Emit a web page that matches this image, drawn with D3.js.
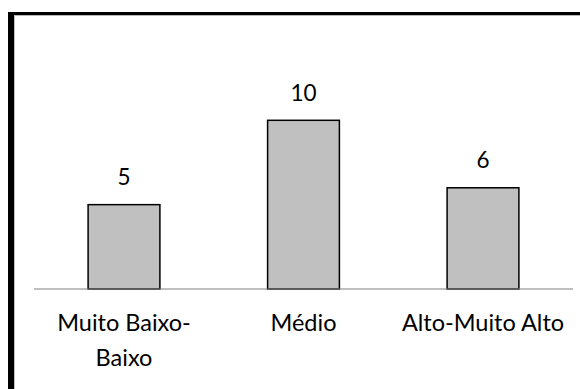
<!DOCTYPE html>
<html>
<head>
<meta charset="utf-8">
<script src="https://cdn.jsdelivr.net/npm/d3@7"></script>
<style>
  html, body { margin: 0; padding: 0; background: #fff; }
  svg { display: block; }
  text { font-family: Lato, "Open Sans", sans-serif; fill: #000; }
</style>
</head>
<body>
<svg id="chart" width="580" height="389"></svg>
<script>
// Category groups and their counts
const categories = ["Muito Baixo-Baixo", "Médio", "Alto-Muito Alto"];
const categoryLines = [["Muito Baixo-", "Baixo"], ["Médio"], ["Alto-Muito Alto"]];
const counts = [5, 10, 6];

const svg = d3.select("#chart");
const W = 580, H = 389;

// Frame: heavy top and left edges
svg.append("rect").attr("x", 8).attr("y", 12).attr("width", W - 8).attr("height", 3).attr("fill", "#000");
svg.append("rect").attr("x", 8).attr("y", 12).attr("width", 6).attr("height", H - 12).attr("fill", "#000");
svg.append("rect").attr("x", 14).attr("y", 15).attr("width", W - 14).attr("height", 1).attr("fill", "#bbb");
svg.append("rect").attr("x", 14).attr("y", 15).attr("width", 1).attr("height", H - 15).attr("fill", "#bbb");

const baseline = 289;

const x = d3.scaleBand()
  .domain(categories)
  .range([34.25, 572.75])
  .paddingInner(0.6)
  .paddingOuter(0.3);

const y = d3.scaleLinear()
  .domain([0, 10])
  .range([baseline, 120.3]);

// Bars
svg.append("g").selectAll("rect")
  .data(counts)
  .join("rect")
  .attr("x", (d, i) => x(categories[i]))
  .attr("y", d => y(d))
  .attr("width", x.bandwidth())
  .attr("height", d => baseline - y(d))
  .attr("fill", "#c0c0c0")
  .attr("stroke", "#000")
  .attr("stroke-width", 1.5);

// Category axis line
svg.append("line")
  .attr("x1", 34).attr("x2", 573)
  .attr("y1", baseline).attr("y2", baseline)
  .attr("stroke", "#808080")
  .attr("stroke-width", 1.2);

// Value labels
svg.append("g").selectAll("text")
  .data(counts)
  .join("text")
  .attr("x", (d, i) => x(categories[i]) + x.bandwidth() / 2)
  .attr("y", d => y(d) - 19.5)
  .attr("text-anchor", "middle")
  .attr("font-size", 22.5)
  .text(d => d);

// Category labels
const cat = svg.append("g").selectAll("text")
  .data(categories)
  .join("text")
  .attr("x", d => x(d) + x.bandwidth() / 2)
  .attr("y", 331)
  .attr("text-anchor", "middle")
  .attr("font-size", 23.5);

cat.each(function (d, i) {
  const t = d3.select(this);
  categoryLines[i].forEach((line, j) => {
    t.append("tspan")
      .attr("x", x(d) + x.bandwidth() / 2)
      .attr("dy", j === 0 ? 0 : 34.5)
      .text(line);
  });
});
</script>
</body>
</html>
